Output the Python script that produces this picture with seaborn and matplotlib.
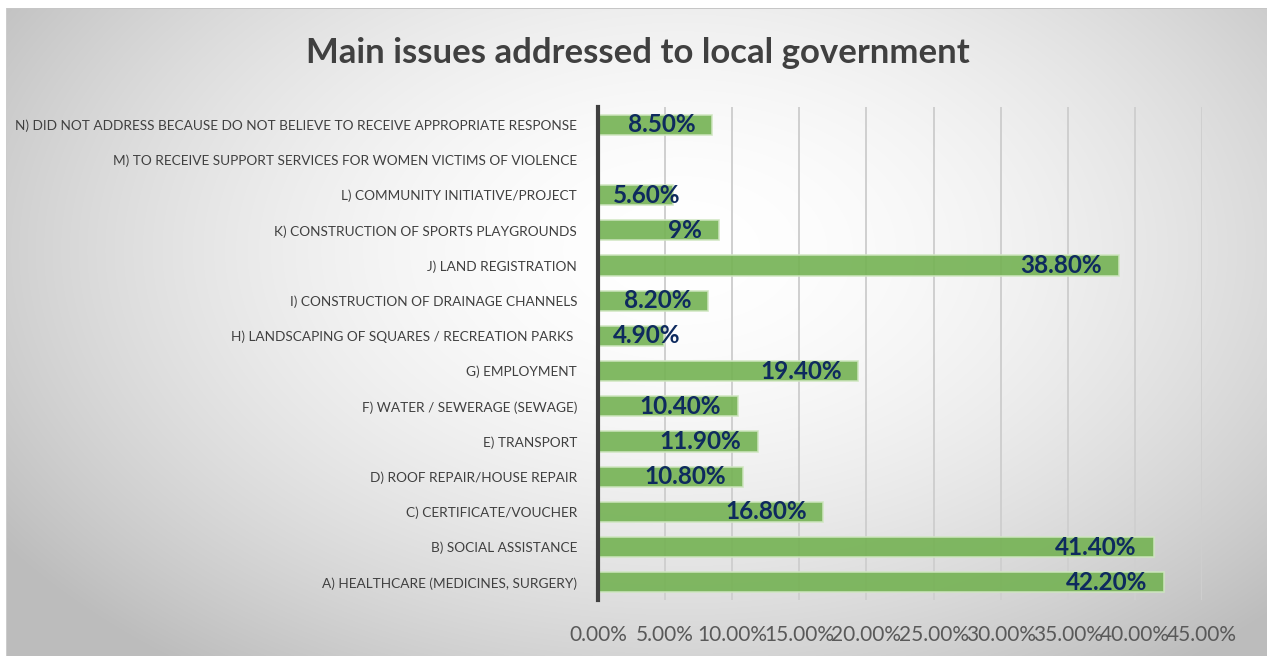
import numpy as np
import pandas as pd
import matplotlib
matplotlib.use("Agg")
import matplotlib.pyplot as plt
import seaborn as sns

# Survey answers, listed top to bottom
issues = [
    "N) DID NOT ADDRESS BECAUSE DO NOT BELIEVE TO RECEIVE APPROPRIATE RESPONSE",
    "M) TO RECEIVE SUPPORT SERVICES FOR WOMEN VICTIMS OF VIOLENCE",
    "L) COMMUNITY INITIATIVE/PROJECT",
    "K) CONSTRUCTION OF SPORTS PLAYGROUNDS",
    "J) LAND REGISTRATION",
    "I) CONSTRUCTION OF DRAINAGE CHANNELS",
    "H) LANDSCAPING OF SQUARES / RECREATION PARKS ",
    "G) EMPLOYMENT",
    "F) WATER / SEWERAGE (SEWAGE)",
    "E) TRANSPORT",
    "D) ROOF REPAIR/HOUSE REPAIR",
    "C) CERTIFICATE/VOUCHER",
    "B) SOCIAL ASSISTANCE",
    "A) HEALTHCARE (MEDICINES, SURGERY)",
]
shares = [8.5, np.nan, 5.6, 9.0, 38.8, 8.2, 4.9, 19.4, 10.4, 11.9, 10.8, 16.8, 41.4, 42.2]
x_ticks = [0, 5, 10, 15, 20, 25, 30, 35, 40, 45]

df = pd.DataFrame({"issue": issues, "share": shares})

sns.set_theme(style="white")
plt.rcParams["font.family"] = ["Lato", "DejaVu Sans"]

W, H = 1267, 656
fig = plt.figure(figsize=(W / 100, H / 100), dpi=100)
fig.patch.set_facecolor("white")

# Soft radial backdrop of the chart area
bg = fig.add_axes([0, 0, 1, 1], zorder=-10)
yy, xx = np.mgrid[0:H, 0:W]
r = np.sqrt(((xx - 680) / 820.0) ** 2 + ((yy - 250) / 520.0) ** 2)
shade = 1.0 - (1.0 - 0.74) * np.clip(r, 0, 1) ** 1.8
img = np.dstack([shade] * 3)
img[:8, :, :] = 1.0
img[:, :6, :] = 1.0
img[8, 6:, :] = 0.78
img[8:, 6, :] = 0.80
bg.imshow(img, extent=[0, W, H, 0], aspect="auto", interpolation="bilinear")
bg.set_axis_off()

ax = fig.add_axes([598 / W, 1 - 600 / H, 604 / W, 493 / H])
ax.patch.set_alpha(0)

sns.barplot(data=df, x="share", y="issue", orient="h", ax=ax,
            color="#74b253", saturation=1, alpha=0.9, width=0.57,
            edgecolor="#cfe6c0", linewidth=1.2, zorder=3)

ax.set_xlim(0, 45)
ax.set_ylim(len(issues) - 0.5, -0.5)
ax.set_xticks(x_ticks)
ax.set_xticklabels([f"{t:.2f}%" for t in x_ticks], fontsize=15, color="#595959")
ax.tick_params(axis="x", length=6, width=1, color="#a6a6a6", pad=12, direction="out")
ax.tick_params(axis="y", length=0, pad=15, labelsize=9.8, labelcolor="#404040")
ax.xaxis.grid(True, color="#cfcfcf", linewidth=1.4, zorder=0)
ax.set_axisbelow(True)
ax.set_xlabel("")
ax.set_ylabel("")
for s in ["top", "right", "bottom"]:
    ax.spines[s].set_visible(False)
ax.spines["left"].set_color("#404040")
ax.spines["left"].set_linewidth(3)
ax.spines["left"].set_zorder(5)

# Value labels at the inner end of each bar
for i, v in enumerate(shares):
    if np.isnan(v):
        continue
    text = f"{v:.0f}%" if float(v).is_integer() else f"{v:.2f}%"
    if v - 1.25 < 6.3:
        ax.text(1.1, i, text, ha="left", va="center", fontsize=17.5,
                fontweight="bold", color="#0e2a5e", zorder=6)
    else:
        ax.text(v - 1.25, i, text, ha="right", va="center", fontsize=17.5,
                fontweight="bold", color="#0e2a5e", zorder=6)

fig.text(638 / W, 1 - 53 / H, "Main issues addressed to local government",
         ha="center", va="center", fontsize=25, fontweight="bold", color="#404040")

fig.savefig("out.png", dpi=100)
